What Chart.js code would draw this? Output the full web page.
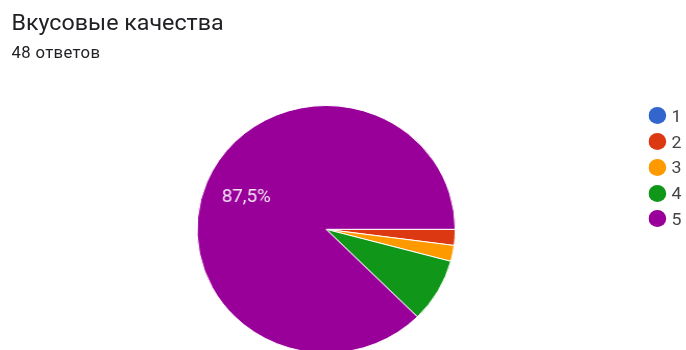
<!doctype html>
<html><head>
<meta charset="utf-8">
<title>Вкусовые качества</title>
<script src="https://cdn.jsdelivr.net/npm/chart.js"></script>
<style>
  html, body { margin:0; background:#fff; }
  body { width:686px; height:350px; overflow:hidden; font-family: Roboto, Arial, sans-serif; position:relative; }
  /* la captura original esta algo estirada en horizontal */
  #stage { position:absolute; left:0; top:0; width:658px; height:460px; transform: scaleX(1.0426); transform-origin: 0 0; }
  #title { position:absolute; left:11px; top:9px; font-size:22.3px; color:#202124; white-space:nowrap; }
  #sub { position:absolute; left:11px; top:43px; font-size:16px; letter-spacing:0.35px; color:#202124; white-space:nowrap; }
  #pie { position:absolute; left:0; top:0; }
  #legend { position:absolute; left:622px; top:103px; font-size:17px; color:#444; }
  #legend div { height:25.75px; display:flex; align-items:center; white-space:nowrap; }
  #legend span.dot { display:inline-block; width:17px; height:17px; border-radius:50%; margin-right:5px; }
</style>
</head><body>
<div id="stage">
  <div id="title">Вкусовые качества</div>
  <div id="sub">48 ответов</div>
  <canvas id="pie" width="658" height="460"></canvas>
  <div id="legend"></div>
</div>
<script>
// datos
const categorias = ['1', '2', '3', '4', '5'];
const respuestas = [0, 1, 1, 4, 42];
const colores = ['#3366cc', '#dc3912', '#ff9900', '#109618', '#990099'];

// etiquetas de porcentaje dentro de las porciones grandes
const etiquetas = {
  id: 'etiquetas',
  afterDatasetsDraw(chart) {
    const ctx = chart.ctx;
    const meta = chart.getDatasetMeta(0);
    const data = chart.data.datasets[0].data;
    const total = data.reduce((a, b) => a + b, 0);
    ctx.save();
    ctx.font = '18px Roboto, Arial, sans-serif';
    ctx.fillStyle = '#f6e6f6';
    ctx.textAlign = 'center';
    ctx.textBaseline = 'middle';
    meta.data.forEach((arc, i) => {
      const frac = data[i] / total;
      if (frac < 0.1) return;
      const mid = (arc.startAngle + arc.endAngle) / 2;
      const r = arc.outerRadius * 0.67;
      const txt = (frac * 100).toFixed(1).replace('.', ',') + '%';
      ctx.fillText(txt, arc.x + Math.cos(mid) * r, arc.y + Math.sin(mid) * r);
    });
    ctx.restore();
  }
};

const chart = new Chart(document.getElementById('pie'), {
  type: 'pie',
  data: {
    labels: categorias,
    datasets: [{
      data: respuestas,
      backgroundColor: colores,
      borderColor: '#ffffff',
      borderWidth: 1
    }]
  },
  options: {
    responsive: false,
    animation: false,
    rotation: 90,
    layout: { padding: { left: 188.5, right: 220.9, top: 105, bottom: 106.4 } },
    plugins: { legend: { display: false }, tooltip: { enabled: false } }
  },
  plugins: [etiquetas]
});

// leyenda en html
const leyenda = document.getElementById('legend');
categorias.forEach((c, i) => {
  const d = document.createElement('div');
  d.innerHTML = '<span class="dot" style="background:' + colores[i] + '"></span>' + c;
  leyenda.appendChild(d);
});
</script>
</body></html>
